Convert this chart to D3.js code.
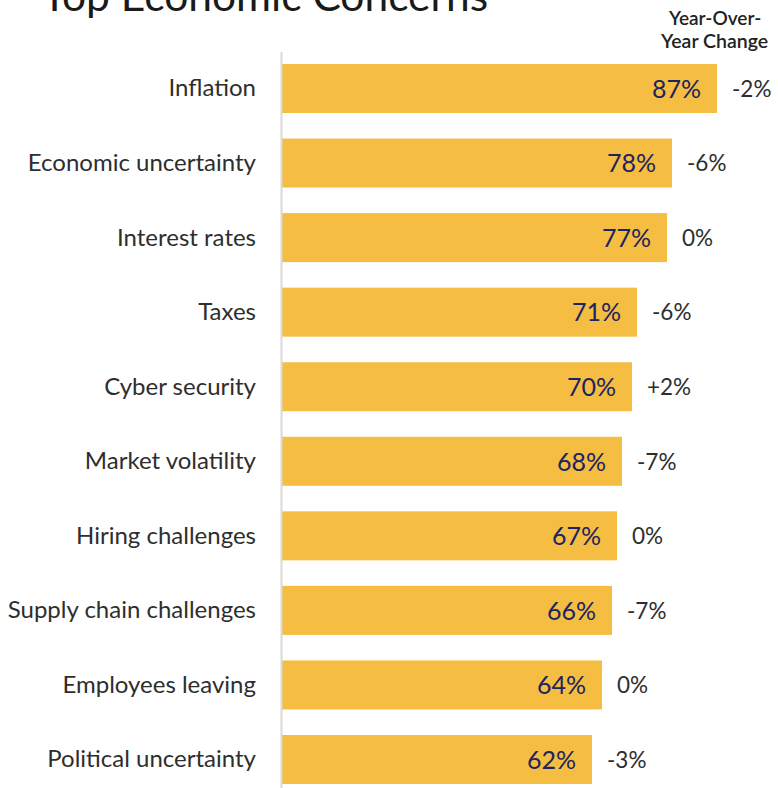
<!DOCTYPE html>
<html>
<head>
<meta charset="utf-8">
<script src="https://cdn.jsdelivr.net/npm/d3@7"></script>
<style>
  html, body { margin: 0; padding: 0; background: #fff; }
  svg { display: block; font-family: Lato, "Noto Sans", sans-serif; }
</style>
</head>
<body>
<svg id="chart" width="778" height="788"></svg>
<script>
// Share of respondents naming each item a top economic concern
const categories = [
  "Inflation", "Economic uncertainty", "Interest rates", "Taxes", "Cyber security",
  "Market volatility", "Hiring challenges", "Supply chain challenges",
  "Employees leaving", "Political uncertainty"
];
const shares = [87, 78, 77, 71, 70, 68, 67, 66, 64, 62];
const yoyChange = ["-2%", "-6%", "0%", "-6%", "+2%", "-7%", "0%", "-7%", "0%", "-3%"];

const svg = d3.select("#chart");

const x = d3.scaleLinear().domain([0, 100]).range([282, 782]);
const y = d3.scaleBand().domain(categories).range([64, 784]).paddingInner(0.343).paddingOuter(0);

// Title (runs off the top edge)
svg.append("text")
  .attr("x", 42).attr("y", 11)
  .attr("font-size", 42.5).attr("fill", "#1a1a1a")
  .text("Top Economic Concerns");

// Column header for the change values
const head = svg.append("text")
  .attr("font-size", 19).attr("font-weight", 600)
  .attr("fill", "#222");
head.append("tspan").attr("x", 669).attr("y", 25).text("Year-Over-");
head.append("tspan").attr("x", 661).attr("y", 48).attr("font-size", 19.5).text("Year Change");

// Bars
svg.append("g").selectAll("rect")
  .data(categories)
  .join("rect")
  .attr("x", x(0))
  .attr("y", d => y(d))
  .attr("width", (d, i) => x(shares[i]) - x(0))
  .attr("height", y.bandwidth())
  .attr("fill", "#f5bd41");

// Vertical baseline
svg.append("line")
  .attr("x1", 281.5).attr("x2", 281.5)
  .attr("y1", 52).attr("y2", 788)
  .attr("stroke", "#d9d9d9").attr("stroke-width", 2);

// Category labels
svg.append("g").selectAll("text")
  .data(categories)
  .join("text")
  .attr("x", 256)
  .attr("y", d => y(d) + y.bandwidth() / 2)
  .attr("dy", "0.33em")
  .attr("text-anchor", "end")
  .attr("font-size", 24)
  .attr("fill", "#2e2e2e")
  .text(d => d);

// Value labels inside bars
svg.append("g").selectAll("text")
  .data(categories)
  .join("text")
  .attr("x", (d, i) => x(shares[i]) - 16)
  .attr("y", d => y(d) + y.bandwidth() / 2)
  .attr("dy", "0.37em")
  .attr("text-anchor", "end")
  .attr("font-size", 25)
  .attr("fill", "#1c2461")
  .text((d, i) => shares[i] + "%");

// Year-over-year change labels
svg.append("g").selectAll("text")
  .data(categories)
  .join("text")
  .attr("x", (d, i) => x(shares[i]) + 15)
  .attr("y", d => y(d) + y.bandwidth() / 2)
  .attr("dy", "0.37em")
  .attr("font-size", 22.5)
  .attr("fill", "#2e2e2e")
  .text((d, i) => yoyChange[i]);
</script>
</body>
</html>
